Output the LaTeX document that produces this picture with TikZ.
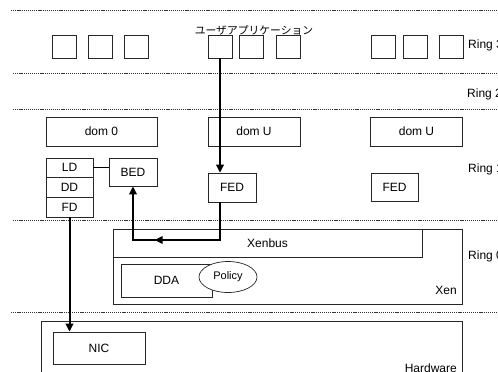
\documentclass[tikz,border=0pt]{standalone}
\usepackage{fontspec}
\setmainfont{Liberation Sans}
\newfontfamily\jpfont{Noto Sans CJK JP}
\usetikzlibrary{arrows.meta,shapes.geometric,decorations.markings}
\tikzset{
  box/.style={draw=black!85, line width=0.7pt, inner sep=0pt, font=\fontsize{12}{14}\selectfont},
  sq/.style={box, minimum width=24pt, minimum height=23pt},
  lbl/.style={inner sep=0pt, font=\fontsize{12}{14}\selectfont},
  dotline/.style={line width=0.6pt, dash pattern=on 1.2pt off 0.9pt, black!80},
  flow/.style={line width=2pt, -{Triangle[length=8pt,width=7.5pt]}},
}
\begin{document}
\begin{tikzpicture}[x=1pt,y=-1pt]
\useasboundingbox (0,0) rectangle (498,372);
% dotted ring separators
\draw[dotline] (11,10.5) -- (498,10.5);
\draw[dotline] (13,73) -- (498,73);
\draw[dotline] (13,109.5) -- (498,109.5);
\draw[dotline] (13,220) -- (498,220);
\draw[dotline] (11,312.5) -- (498,312.5);
% ring labels
\node[lbl, anchor=west] (r3) at (468,45) {Ring 3};
\node[lbl, anchor=west] (r2) at (467,94) {Ring 2};
\node[lbl, anchor=west] (r1) at (468,169) {Ring 1};
\node[lbl, anchor=west] (r0) at (468,256) {Ring 0};
% applications
\node[sq] (s1) at (64.5,46.5) {};
\node[sq] (s2) at (100.5,46.5) {};
\node[sq] (s3) at (136.5,46.5) {};
\node[sq] (s4) at (220,46.5) {};
\node[sq] (s5) at (251,46.5) {};
\node[sq] (s6) at (288,46.5) {};
\node[sq] (s7) at (383.5,46.5) {};
\node[sq] (s8) at (415,46.5) {};
\node[sq] (s9) at (451,46.5) {};
\node[inner sep=0pt, font=\jpfont\fontsize{10.8}{12}\selectfont] (app) at (254,30) {ユーザアプリケーション};
% domains
\node[box, minimum width=111pt, minimum height=29pt] (dom0) at (101.5,131.5) {dom 0};
\node[box, minimum width=92pt, minimum height=29pt] (domu1) at (254,131.5) {dom U};
\node[box, minimum width=92pt, minimum height=29pt] (domu2) at (416.5,131.5) {dom U};
% drivers
\node[box, minimum width=47pt, minimum height=19.7pt] (ld) at (69.5,167.8) {LD};
\node[box, minimum width=47pt, minimum height=19.7pt] (dd) at (69.5,187.5) {DD};
\node[box, minimum width=47pt, minimum height=19.7pt] (fd) at (69.5,207) {FD};
\node[box, minimum width=48pt, minimum height=28pt] (bed) at (133,172) {BED};
\node[box, minimum width=48pt, minimum height=29pt] (fed1) at (232,187.5) {FED};
\node[box, minimum width=47pt, minimum height=28pt] (fed2) at (394.5,187) {FED};
% Xen
\node[box, minimum width=349pt, minimum height=75pt] (xen) at (287.5,266.7) {};
\node[lbl, anchor=east] (xenl) at (457,290) {Xen};
\node[box, minimum width=309pt, minimum height=28pt] (xenbus) at (267.5,243) {Xenbus};
\node[box, minimum width=91pt, minimum height=33pt] (dda) at (166.5,280.5) {DDA};
\node[box, ellipse, fill=white, minimum width=58pt, minimum height=31pt, font=\fontsize{11}{13}\selectfont] (policy) at (228,277) {Policy};
% hardware
\node[box, minimum width=421pt, minimum height=80pt] (hw) at (251.5,361) {};
\node[lbl, anchor=east] (hwl) at (457,368) {Hardware};
\node[box, minimum width=92pt, minimum height=32pt] (nic) at (99,348) {NIC};
% connectors
\draw[line width=1pt] (ld.east) -- (ld.east -| bed.west);
\draw[flow] (s4.south) -- (s4.south |- fed1.north);
\coordinate (c1) at (220,240);
\coordinate (c2) at (133,240);
\draw[flow, line join=miter,
  postaction={decorate, decoration={markings, mark=at position 103pt with {\arrow{Triangle[length=8pt,width=7.5pt]}}}}]
  (c1 |- fed1.south) -- (c1) -- (c2) -- (bed.south);
\draw[flow] (fd.south) -- (fd.south |- nic.north);
\end{tikzpicture}
\end{document}
